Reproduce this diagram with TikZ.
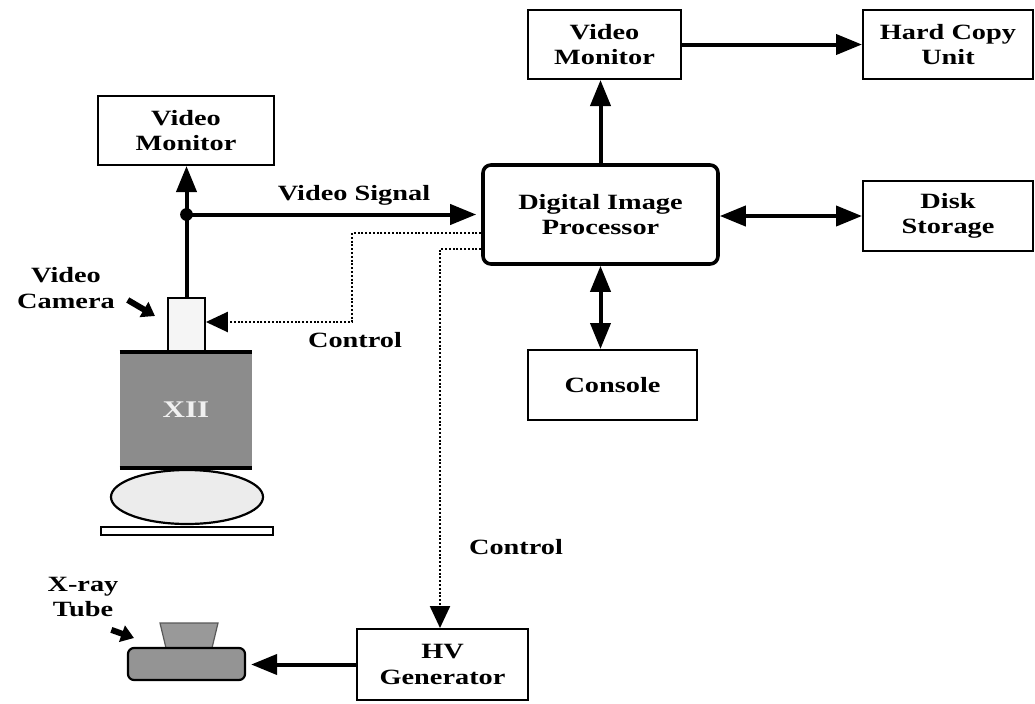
\documentclass[tikz,border=0pt]{standalone}
\usepackage{fontspec}
\setmainfont{Liberation Serif}[FakeStretch=1.3]
\usepackage{tikz}
\usetikzlibrary{arrows.meta,positioning,shapes.geometric,calc}

\begin{document}
\begin{tikzpicture}[x=0.25mm, y=-0.25mm,
        box/.style={draw, line width=0.5mm, fill=white, minimum height=17.25mm, align=center, font=\fontsize{15.5}{18}\selectfont\bfseries},
        proc/.style={box, line width=0.9mm, rounded corners=2mm, minimum width=58.75mm, minimum height=24.75mm},
        lbl/.style={align=center, font=\fontsize{15.5}{18}\selectfont\bfseries},
        sig/.style={line width=1mm, -{Triangle[length=6.5mm,width=5mm]}},
        dsig/.style={line width=1mm, {Triangle[length=6.5mm,width=5mm]}-{Triangle[length=6.5mm,width=5mm]}},
        ctrl/.style={line width=0.6mm, dash pattern=on 0.5mm off 0.45mm, -{Triangle[length=5.5mm,width=5mm]}},
        hint/.style={line width=1.5mm, -{Triangle[length=3.2mm,width=4.2mm]}}
    ]
    \useasboundingbox (0,0) rectangle (1035,703);
    % Blocos
    \node[box, minimum width=44mm] (mon1) at (186,130.5) {Video\\Monitor};
    \node[box, minimum width=38.25mm] (mon2) at (604.5,44.5) {Video\\Monitor};
    \node[box, minimum width=42.5mm] (hcu) at (948,44.5) {Hard Copy\\Unit};
    \node[proc] (dip) at (600.5,214.5) {Digital Image\\Processor};
    \node[box, minimum width=42.5mm, minimum height=17.5mm] (disk) at (948,216) {Disk\\Storage};
    \node[box, minimum width=42.25mm, minimum height=17.5mm] (cons) at (612.5,385) {Console};
    \node[box, minimum width=42.75mm, minimum height=17.75mm] (hv) at (442.5,664.5) {HV\\Generator};
    % Camera, XII e mesa
    \node[draw, line width=0.45mm, fill=gray!8, minimum width=9.25mm, minimum height=13.5mm] (cam) at (186.5,325) {};
    \node[fill=black!45, minimum width=33mm, minimum height=29mm, text=gray!12, font=\fontsize{17}{20}\selectfont\bfseries] (xii) at (186,410) {XII};
    \draw[line width=1mm] (xii.north west) -- (xii.north east);
    \draw[line width=1mm] (xii.south west) -- (xii.south east);
    \node[draw, ellipse, line width=0.55mm, fill=gray!15, minimum width=38mm, minimum height=13.5mm] (lens) at (187,497) {};
    \node[draw, line width=0.4mm, minimum width=43mm, minimum height=2mm, inner sep=0pt] (plate) at (187,531) {};
    % Tubo de raios X
    \draw[draw=gray!70!black, line width=0.3mm, fill=black!40] (160,623) -- (218,623) -- (212,648) -- (166,648) -- cycle;
    \node[draw, line width=0.55mm, rounded corners=1.5mm, fill=black!42, minimum width=29.25mm, minimum height=8mm] (tube) at (186.5,664) {};
    % Rotulos
    \node[lbl] (vsig) at (354,195) {Video Signal};
    \node[lbl] (ctl1) at (355,340) {Control};
    \node[lbl] (ctl2) at (516,547) {Control};
    \node[lbl] (camlbl) at (66,288) {Video\\Camera};
    \node[lbl] (tubelbl) at (83,597) {X-ray\\Tube};
    \coordinate (campt) at (155,316);
    \coordinate (tubept) at (134,638);
    \draw[hint] ($(camlbl.east)+(8,12)$) -- (campt);
    \draw[hint] ($(tubelbl.south east)+(-12,8)$) -- (tubept);
    % Conexoes
    \coordinate (j) at (cam.north |- dip.west);
    \draw[line width=1mm] (cam.north) -- (j);
    \draw[sig] (j) -- (j |- mon1.south);
    \draw[sig, shorten >=1.25mm] (j) -- (dip.west);
    \fill (j) circle (1.6mm);
    \draw[sig] (mon2.east) -- (hcu.west);
    \draw[sig] (dip.north) -- (dip.north |- mon2.south);
    \draw[dsig] (dip.east |- disk.west) -- (disk.west);
    \draw[dsig] (dip.south) -- (dip.south |- cons.north);
    \draw[sig, shorten >=1.25mm] (hv.west) -- (hv.west -| tube.east);
    % Controle
    \draw[ctrl] (dip.west |- 0,233) -| (352,322) -- (cam.east |- 0,322);
    \draw[ctrl] (dip.west |- 0,249) -| (hv.north -| 440,0);
\end{tikzpicture}
\end{document}
